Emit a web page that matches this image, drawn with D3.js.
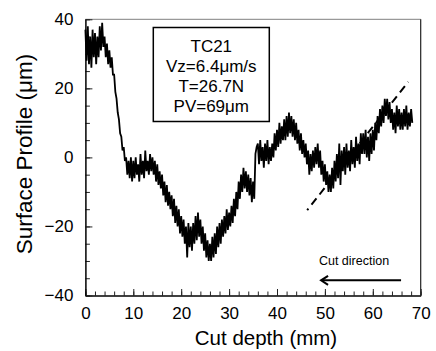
<!DOCTYPE html>
<html>
<head>
<meta charset="utf-8">
<script src="https://cdn.jsdelivr.net/npm/d3@7"></script>
<style>
  body { margin: 0; background: #fff; }
  svg text { font-family: "Liberation Sans", Arial, sans-serif; }
</style>
</head>
<body>
<div id="chart"></div>
<script>
// surface profile, sampled every 0.25 mm from 0 mm
const profileStep = 0.25;
const profileY = [
  37, 28, 38, 27, 35, 26, 37, 29,
  36, 27, 35, 29, 38, 31, 39, 32,
  35, 29, 33, 27, 31, 26, 29, 24,
  24, 19, 17, 13, 11, 7, 6, 2,
  3, -1, 0, -5, -1, -6, 0, -7,
  -1, -6, 0, -5, -2, -7, 1, -5,
  -1, -6, 2, -4, -1, -5, 1, -4,
  0, -5, -1, -7, -2, -8, -4, -9,
  -5, -11, -7, -13, -8, -14, -10, -15,
  -11, -17, -12, -19, -14, -20, -15, -22,
  -17, -23, -18, -25, -20, -29, -19, -26,
  -20, -27, -19, -25, -17, -24, -16, -23,
  -18, -25, -20, -27, -22, -29, -24, -30,
  -25, -30, -23, -29, -22, -28, -20, -26,
  -19, -25, -18, -23, -17, -22, -15, -21,
  -16, -20, -14, -19, -12, -17, -10, -15,
  -7, -12, -5, -10, -3, -9, -4, -10,
  -5, -11, -6, -13, -7, -12, 1, 3,
  4, -2, 5, -1, 3, -3, 4, -1,
  5, -2, 3, -1, 4, 0, 7, 2,
  8, 3, 10, 4, 9, 5, 11, 5,
  12, 6, 13, 7, 12, 6, 11, 5,
  10, 4, 8, 2, 7, 1, 5, 0,
  4, -2, 2, -5, 1, -4, 2, -3,
  3, -2, 4, -3, 2, -5, -1, -7,
  -2, -8, -4, -10, -5, -10, -3, -9,
  -1, -7, 1, -6, 4, -8, 2, -4,
  3, -5, 4, -3, 2, -4, 5, -2,
  3, -3, 6, -1, 4, -2, 7, 1,
  7, 1, 8, 0, 6, -1, 7, 1,
  8, 2, 10, 5, 12, 7, 14, 9,
  15, 10, 17, 12, 17, 11, 16, 10,
  14, 8, 13, 7, 15, 9, 14, 8,
  13, 8, 14, 9, 15, 8, 13, 9,
  14, 10
];

// dashed trend line
const trendX = [46.3, 67.4];
const trendY = [-15.3, 21.9];

// cut direction arrow (from, to)
const arrowX = [65.9, 49.2];
const arrowY = -35.6;

const xTicks = [0, 10, 20, 30, 40, 50, 60, 70];
const yTicks = [-40, -20, 0, 20, 40];
const infoLines = ["TC21", "Vz=6.4\u03bcm/s", "T=26.7N", "PV=69\u03bcm"];

const width = 436, height = 351;
const margin = { left: 85.4, right: 15.3, top: 19.3, bottom: 55.5 };

const svg = d3.select("#chart").append("svg")
  .attr("width", width)
  .attr("height", height);

const x = d3.scaleLinear().domain([0, 70]).range([margin.left, width - margin.right]);
const y = d3.scaleLinear().domain([-40, 40]).range([height - margin.bottom, margin.top]);

// frame (top and right)
svg.append("line")
  .attr("x1", x(0)).attr("x2", x(70)).attr("y1", y(40)).attr("y2", y(40))
  .attr("stroke", "#808080").attr("stroke-width", 1);
svg.append("line")
  .attr("x1", x(70)).attr("x2", x(70)).attr("y1", y(40)).attr("y2", y(-40))
  .attr("stroke", "#222").attr("stroke-width", 1.2);

// minor ticks
svg.append("g")
  .attr("transform", `translate(0,${y(-40)})`)
  .call(d3.axisBottom(x).tickValues(d3.range(0, 71, 2)).tickSize(-4).tickFormat(""))
  .call(g => g.select(".domain").remove())
  .selectAll("line").attr("stroke", "#222");
svg.append("g")
  .attr("transform", `translate(${x(0)},0)`)
  .call(d3.axisLeft(y).tickValues(d3.range(-40, 41, 5)).tickSize(-4.5).tickFormat(""))
  .call(g => g.select(".domain").remove())
  .selectAll("line").attr("stroke", "#222");

// major axes
const xAxis = svg.append("g")
  .attr("transform", `translate(0,${y(-40)})`)
  .call(d3.axisBottom(x).tickValues(xTicks).tickSizeInner(-6.5).tickSizeOuter(0).tickPadding(11));
const yAxis = svg.append("g")
  .attr("transform", `translate(${x(0)},0)`)
  .call(d3.axisLeft(y).tickValues(yTicks).tickSizeInner(-7).tickSizeOuter(0).tickPadding(12));

[xAxis, yAxis].forEach(g => {
  g.select(".domain").attr("stroke", "#000").attr("stroke-width", 1.5);
  g.selectAll(".tick line").attr("stroke", "#222");
  g.selectAll("text")
    .attr("font-family", "'Liberation Sans', Arial, sans-serif")
    .attr("font-size", 17)
    .attr("fill", "#000");
});

// profile line
const line = d3.line()
  .x((d, i) => x(i * profileStep))
  .y(d => y(d));
svg.append("path")
  .datum(profileY)
  .attr("fill", "none")
  .attr("stroke", "#000")
  .attr("stroke-width", 1.8)
  .attr("stroke-linejoin", "miter")
  .attr("d", line);

// trend line
svg.append("line")
  .attr("x1", x(trendX[0])).attr("y1", y(trendY[0]))
  .attr("x2", x(trendX[1])).attr("y2", y(trendY[1]))
  .attr("stroke", "#000")
  .attr("stroke-width", 2)
  .attr("stroke-dasharray", "8,5")
  .attr("stroke-dashoffset", 6);

// info box
const box = svg.append("g");
box.append("rect")
  .attr("x", 153.3).attr("y", 27.5)
  .attr("width", 116).attr("height", 94)
  .attr("fill", "#fff")
  .attr("stroke", "#000")
  .attr("stroke-width", 1.5);
box.selectAll("text")
  .data(infoLines)
  .join("text")
  .attr("x", 211.3)
  .attr("y", (d, i) => 51.5 + i * 20.3)
  .attr("text-anchor", "middle")
  .attr("font-size", 17)
  .attr("fill", "#000")
  .text(d => d);

// cut direction
svg.append("text")
  .attr("x", 354)
  .attr("y", 265)
  .attr("text-anchor", "middle")
  .attr("font-family", "'Open Sans', sans-serif")
  .attr("font-size", 12.5)
  .attr("fill", "#000")
  .text("Cut direction");

svg.append("line")
  .attr("x1", x(arrowX[0])).attr("y1", y(arrowY))
  .attr("x2", x(arrowX[1]) + 1).attr("y2", y(arrowY))
  .attr("stroke", "#000").attr("stroke-width", 2);
svg.append("path")
  .attr("d", d3.line()([
    [x(arrowX[1]) + 7, y(arrowY) - 4.5],
    [x(arrowX[1]), y(arrowY)],
    [x(arrowX[1]) + 7, y(arrowY) + 4.5]
  ]))
  .attr("fill", "none")
  .attr("stroke", "#000")
  .attr("stroke-width", 2);

// axis titles
svg.append("text")
  .attr("x", 266)
  .attr("y", 345)
  .attr("text-anchor", "middle")
  .attr("font-family", "'Open Sans', sans-serif")
  .attr("font-size", 20.5)
  .attr("fill", "#000")
  .text("Cut depth (mm)");

svg.append("text")
  .attr("transform", "translate(32,154) rotate(-90)")
  .attr("text-anchor", "middle")
  .attr("font-size", 22.5)
  .attr("fill", "#000")
  .text("Surface Profile (\u03bcm)");
</script>
</body>
</html>
